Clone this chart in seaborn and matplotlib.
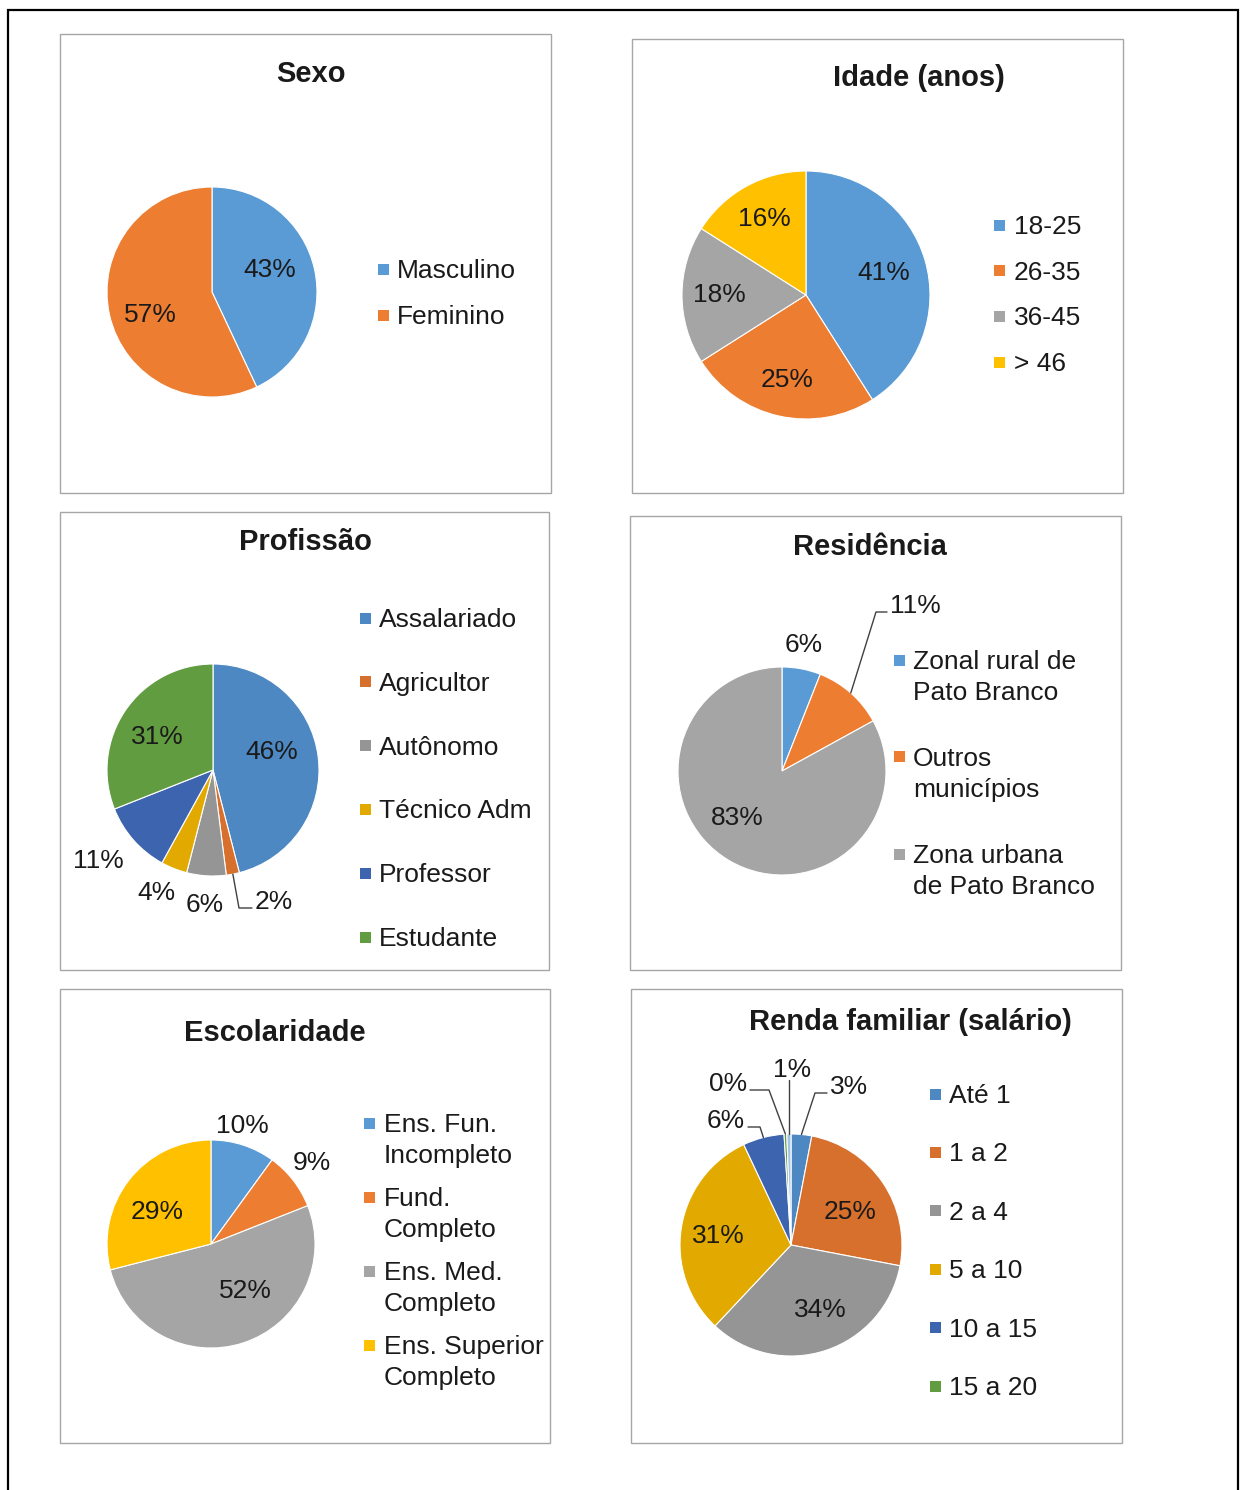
import numpy as np
import matplotlib
matplotlib.use('Agg')
import matplotlib.pyplot as plt
from matplotlib.patches import Rectangle
import seaborn as sns

sns.set_theme(style='white')
plt.rcParams['font.family'] = ['Liberation Sans', 'DejaVu Sans']

W, H = 1243, 1490

# ---------------- data ----------------
sexo_cats = ['Masculino', 'Feminino']
sexo_vals = [43, 57]

idade_cats = ['18-25', '26-35', '36-45', '> 46']
idade_vals = [41, 25, 18, 16]

prof_cats = ['Assalariado', 'Agricultor', 'Autônomo', 'Técnico Adm', 'Professor', 'Estudante']
prof_vals = [46, 2, 6, 4, 11, 31]

res_cats = ['Zonal rural de\nPato Branco', 'Outros\nmunicípios', 'Zona urbana\nde Pato Branco']
res_vals = [6, 11, 83]

esc_cats = ['Ens. Fun.\nIncompleto', 'Fund.\nCompleto', 'Ens. Med.\nCompleto', 'Ens. Superior\nCompleto']
esc_vals = [10, 9, 52, 29]

renda_cats = ['Até 1', '1 a 2', '2 a 4', '5 a 10', '10 a 15', '15 a 20', '> 20']
renda_vals = [3, 25, 34, 31, 6, 0.4, 0.6]
renda_legend_n = 6

base_colors = ['#5B9BD5', '#ED7D31', '#A5A5A5', '#FFC000', '#4472C4', '#70AD47']
dark_colors = ['#4E88C2', '#D6702C', '#959595', '#E2AA00', '#3D64AE', '#629C41', '#A3C4E6']

FS = 19
TFS = 21

fig = plt.figure(figsize=(W / 100, H / 100), dpi=100)
fig.patch.set_facecolor('white')


def fx(x):
    return x / W


def fy(y):
    return 1 - y / H


def frame(x0, y0, x1, y1, color='#A6A6A6', lw=1.0):
    fig.patches.append(Rectangle((fx(x0), fy(y1)), (x1 - x0) / W, (y1 - y0) / H,
                                 transform=fig.transFigure, fill=False,
                                 edgecolor=color, lw=lw, zorder=0))


def title(x, y, s):
    fig.text(fx(x), fy(y), s, ha='center', va='baseline', fontsize=TFS,
             fontweight='bold', color='#1a1a1a')


def legend(mx, tx, y0, dy, cats, colors, line_dy=31, msize=11):
    for i, cat in enumerate(cats):
        yc = y0 + i * dy
        fig.patches.append(Rectangle((fx(mx), fy(yc + msize / 2)), msize / W, msize / H,
                                     transform=fig.transFigure, facecolor=colors[i],
                                     edgecolor='none'))
        for j, line in enumerate(cat.split('\n')):
            fig.text(fx(tx), fy(yc + 9 + j * line_dy), line, ha='left', va='baseline',
                     fontsize=FS, color='#1a1a1a')


def pie(cx, cy, r, vals, colors, lab, leaders=None):
    """lab: per slice (radius, angle shift in degrees clockwise) or None."""
    ax = fig.add_axes([fx(cx - r), fy(cy + r), 2 * r / W, 2 * r / H])
    wedges, _ = ax.pie(vals, colors=colors, startangle=90, counterclock=False, radius=1,
                       wedgeprops=dict(edgecolor='white', linewidth=0.8))
    ax.set_xlim(-1, 1)
    ax.set_ylim(-1, 1)
    ax.set_aspect('equal')
    ax.axis('off')
    total = sum(vals)
    leaders = leaders or {}
    for i, w in enumerate(wedges):
        pct = f"{round(vals[i] / total * 100):.0f}%"
        ang = np.deg2rad((w.theta1 + w.theta2) / 2)
        if i in leaders:
            L = leaders[i]
            sx, sy = np.cos(ang), np.sin(ang)
            side = L['side']
            if side == 0:
                ey = L['ey'] / r
                ax.plot([sx, sx], [sy, ey], color='#404040', lw=1, clip_on=False)
                ax.text(sx + 3 / r, ey + 3 / r, pct, ha='center', va='baseline',
                        fontsize=FS, color='#1a1a1a', clip_on=False)
            else:
                ex, ey = L['elbow'][0] / r, L['elbow'][1] / r
                enx = L['end'] / r
                ax.plot([sx, ex, enx], [sy, ey, ey], color='#404040', lw=1, clip_on=False)
                ax.text(enx + side * 3 / r, ey - 1 / r, pct,
                        ha='left' if side > 0 else 'right', va='baseline',
                        fontsize=FS, color='#1a1a1a', clip_on=False)
        else:
            rr, da = lab[i]
            a = ang - np.deg2rad(da)
            ax.text(rr * np.cos(a), rr * np.sin(a), pct, ha='center',
                    va='center', fontsize=FS, color='#1a1a1a', clip_on=False)
    return ax


# outer border
frame(8, 10, 1238, 1500, color='black', lw=1.6)

# panels
frame(60, 34, 551, 493)
frame(632, 39, 1123, 493)
frame(60, 512, 549, 970)
frame(630, 516, 1121, 970)
frame(60, 989, 550, 1443)
frame(631, 989, 1122, 1443)

# Sexo
title(311, 82, 'Sexo')
pie(212, 292, 105, sexo_vals, base_colors[:2], [(0.59, -8), (0.63, -8)])
legend(378, 397, 269, 46, sexo_cats, base_colors)

# Idade
title(919, 86, 'Idade (anos)')
pie(806, 295, 124, idade_vals, base_colors[:4],
    [(0.65, 0), (0.7, 0), (0.7, 0), (0.7, 0)])
legend(994, 1014, 225, 45.7, idade_cats, base_colors)

# Profissão
title(305, 550, 'Profissão')
pie(213, 770, 106, prof_vals, dark_colors[:6],
    [(0.58, -10), None, (1.28, 0), (1.28, 3), (1.38, 3), (0.61, -3)],
    leaders={1: dict(elbow=(26, -138), end=39, side=1)})
legend(360, 379, 618, 63.8, prof_cats, dark_colors)

# Residência
title(870, 555, 'Residência')
pie(782, 771, 104, res_vals, base_colors[:3], [(1.23, -1), None, (0.62, 13)],
    leaders={1: dict(elbow=(94, 159), end=105, side=1)})
legend(894, 913, 660, 97, res_cats, base_colors)

# Escolaridade
title(275, 1041, 'Escolaridade')
pie(211, 1244, 104, esc_vals, base_colors[:4],
    [(1.17, -3), (1.25, -1), (0.56, -18), (0.6, -7)])
legend(364, 384, 1123, 74, esc_cats, base_colors)

# Renda familiar
title(910, 1030, 'Renda familiar (salário)')
pie(791, 1245, 111, renda_vals, dark_colors,
    [None, (0.61, 5), (0.64, -6), (0.66, -2), None, None, None],
    leaders={0: dict(elbow=(24, 152), end=36, side=1),
             4: dict(elbow=(-31, 118), end=-43, side=-1),
             5: dict(elbow=(-22, 155), end=-41, side=-1),
             6: dict(ey=165, side=0)})
legend(930, 949, 1094, 58.4, renda_cats[:renda_legend_n], dark_colors)

fig.savefig('out.png', dpi=100, facecolor='white')
